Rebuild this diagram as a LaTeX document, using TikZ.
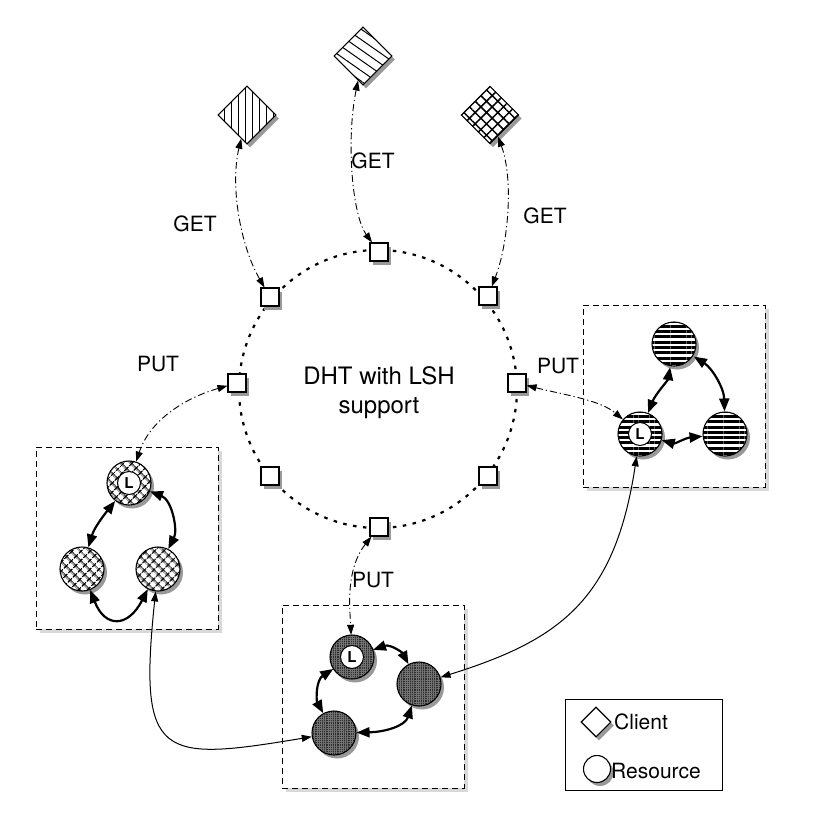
\documentclass[tikz,border=0pt]{standalone}
\usepackage{fontspec}
\setmainfont{TeX Gyre Heros}
\usetikzlibrary{arrows.meta, shapes.geometric, patterns.meta}
\tikzset{
  dshadow/.style={preaction={fill=black!40, transform canvas={shift={(3pt,-3.5pt)}}}},
  client/.style={diamond, draw, line width=1.1pt, minimum size=58pt, inner sep=0pt, dshadow, preaction={fill=white}},
  hop/.style={rectangle, draw, line width=1.1pt, minimum size=18pt, inner sep=0pt, dshadow, preaction={fill=white}},
  res/.style={circle, draw, line width=1.1pt, minimum size=44pt, inner sep=0pt, dshadow, preaction={fill=white}},
  lmark/.style={circle, draw, line width=1pt, fill=white, minimum size=23pt, inner sep=0pt, font=\bfseries\fontsize{15}{15}\selectfont},
  grp/.style={draw, line width=1pt, dash pattern=on 6pt off 4pt, preaction={fill=black!15, transform canvas={shift={(3.5pt,-4pt)}}}, preaction={fill=white}},
  ring/.style={line width=2.2pt, dash pattern=on 3.5pt off 6.5pt},
  req/.style={line width=0.9pt, dash pattern=on 7pt off 3pt on 1.2pt off 3pt, <->},
  link/.style={line width=1pt, <->},
  intra/.style={line width=2.2pt, {Triangle[length=13pt,width=10pt]}-{Triangle[length=13pt,width=10pt]}},
  lbl/.style={font=\fontsize{21}{25}\selectfont, inner sep=1pt}
}

\begin{document}
\begin{tikzpicture}[x=1pt, y=-1pt, >={Triangle[length=10pt, width=7pt]}]
\useasboundingbox (0,0) rectangle (830,814);
% ====== DHT ring ======
\coordinate (ctr) at (378,389);
\draw[ring] (ctr) circle[radius=139pt];
\node[font=\fontsize{24}{29}\selectfont, align=center] (dht) at (379,393) {DHT with LSH\\support};
% --- peers on the ring ---
\node[hop] (hT) at (379,252) {};
\node[hop] (hTL) at (270,297) {};
\node[hop] (hTR) at (488,296) {};
\node[hop] (hL) at (237,383) {};
\node[hop] (hR) at (517,383) {};
\node[hop] (hBL) at (270,476) {};
\node[hop] (hBR) at (488,476) {};
\node[hop] (hB) at (379,527) {};
% ====== clients ======
\node[client, pattern={Lines[angle=90, distance=7pt, line width=0.9pt]}] (cl) at (247,115) {};
\node[client, pattern={Lines[angle=-35, distance=8.5pt, line width=1pt]}] (cm) at (363,56) {};
\node[client, pattern={Hatch[angle=45, distance=8pt, line width=1.5pt]}] (cr) at (490,115) {};
% --- GET requests ---
\draw[req] (cl) .. controls (230,185) and (240,245) .. (hTL);
\draw[req] (cm) .. controls (346,140) and (352,215) .. (hT);
\draw[req] (cr) .. controls (514,180) and (508,245) .. (hTR);
\node[lbl] (getl) at (195,224) {GET};
\node[lbl] (getm) at (373,161) {GET};
\node[lbl] (getr) at (545,216) {GET};
% ====== resource groups ======
\node[grp, minimum width=182pt, minimum height=182pt] (gl) at (127,538) {};
\node[grp, minimum width=182pt, minimum height=182pt] (gr) at (674,396) {};
\node[grp, minimum width=182pt, minimum height=183pt] (gb) at (373,696.5) {};
% --- left group ---
\node[res, pattern={Hatch[angle=45, distance=6.5pt, line width=1.2pt]}] (la) at (129,483) {};
\node[res, pattern={Hatch[angle=45, distance=6.5pt, line width=1.2pt]}] (lb) at (82,569) {};
\node[res, pattern={Hatch[angle=45, distance=6.5pt, line width=1.2pt]}] (lc) at (158,569) {};
\node[lmark] (lam) at (la) {L};
\draw[intra] (la) .. controls (112,505) and (95,525) .. (lb);
\draw[intra] (la) .. controls (172,500) and (178,530) .. (lc);
\draw[intra] (lb) .. controls (105,628) and (128,628) .. (lc);
% --- right group ---
\node[res, pattern={Lines[angle=0, distance=5.3pt, line width=3pt]}] (rb) at (674,344) {};
\node[res, pattern={Lines[angle=0, distance=5.3pt, line width=3pt]}] (ra) at (640,434) {};
\node[res, pattern={Lines[angle=0, distance=5.3pt, line width=3pt]}] (rc) at (725,434) {};
\node[lmark] (ram) at (ra) {L};
\draw[intra] (rb) .. controls (668,380) and (655,395) .. (ra);
\draw[intra] (rb) .. controls (712,368) and (724,388) .. (rc);
\draw[intra] (ra) .. controls (675,444) and (685,438) .. (rc);
% --- bottom group ---
\node[res, preaction={fill=black!82}, pattern={Hatch[angle=0, distance=2.2pt, line width=0.45pt]}, pattern color=black!55] (ba) at (352,657) {};
\node[res, preaction={fill=black!82}, pattern={Hatch[angle=0, distance=2.2pt, line width=0.45pt]}, pattern color=black!55] (bb) at (419,684) {};
\node[res, preaction={fill=black!82}, pattern={Hatch[angle=0, distance=2.2pt, line width=0.45pt]}, pattern color=black!55] (bc) at (334,733) {};
\node[lmark] (bam) at (ba) {L};
\draw[intra] (ba) .. controls (390,644) and (402,652) .. (bb);
\draw[intra] (ba) .. controls (316,680) and (316,700) .. (bc);
\draw[intra] (bc) .. controls (385,732) and (405,726) .. (bb);
% ====== PUT requests ======
\draw[req] (hL) .. controls (185,398) and (150,420) .. (la);
\draw[req] (hR) .. controls (565,395) and (600,400) .. (ra);
\draw[req] (hB) .. controls (345,570) and (350,610) .. (ba);
\node[lbl] (putl) at (158,364) {PUT};
\node[lbl] (putr) at (558,366) {PUT};
\node[lbl] (putb) at (373,580) {PUT};
% ====== links between groups ======
\draw[link] (lc) .. controls (138,760) and (160,762) .. (bc);
\draw[link] (ra) .. controls (615,600) and (560,640) .. (bb);
% ====== legend ======
\node[draw, line width=0.8pt, minimum width=157pt, minimum height=91pt] (lgd) at (643.5,744.5) {};
\node[client, minimum size=30pt] (kc) at (596,722) {};
\node[res, minimum size=27pt] (kr) at (597,769) {};
\node[lbl, anchor=west] (kct) at (613,722) {Client};
\node[lbl, anchor=west] (krt) at (610,771) {Resource};
\end{tikzpicture}
\end{document}
